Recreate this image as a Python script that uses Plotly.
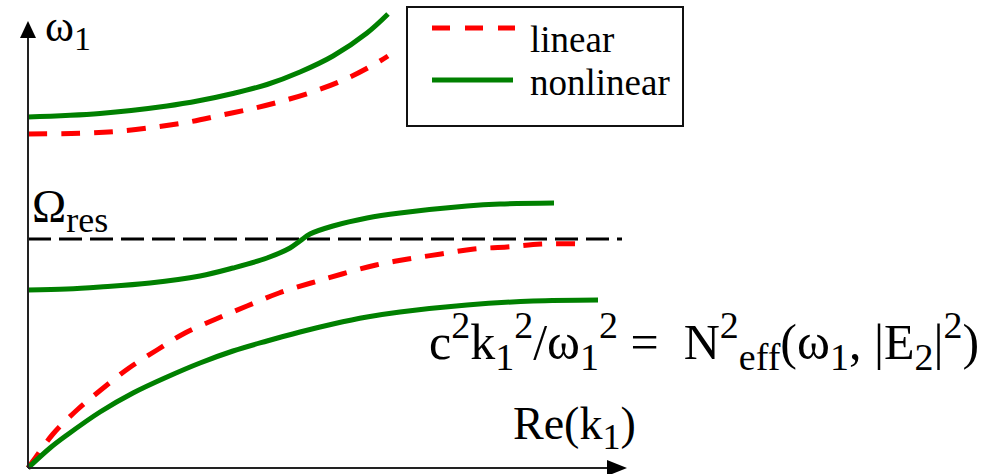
import plotly.graph_objects as go

# ---- data (Re(k1) in arbitrary units, omega1 in arbitrary units) ----
upper_nl_k = [0, 0.72, 1.39, 1.72, 2.05, 2.39, 2.72, 3.05, 3.39, 3.60]
upper_nl_w = [3.51, 3.545, 3.62, 3.675, 3.745, 3.835, 3.96, 4.12, 4.35, 4.54]

upper_lin_k = [0, 0.62, 0.94, 1.28, 1.61, 1.94, 2.27, 2.58, 2.90, 3.22, 3.52, 3.60]
upper_lin_w = [3.34, 3.35, 3.37, 3.41, 3.46, 3.53, 3.60, 3.68, 3.78, 3.91, 4.07, 4.12]

mid_nl_k = [0, 0.39, 0.72, 1.22, 1.72, 2.05, 2.39, 2.62, 2.72, 2.82, 3.05, 3.39, 3.72, 4.39, 4.72, 5.26]
mid_nl_w = [1.78, 1.79, 1.81, 1.85, 1.92, 2.00, 2.10, 2.20, 2.27, 2.34, 2.42, 2.50, 2.55, 2.62, 2.64, 2.65]

low_lin_k = [0, 0.05, 0.25, 0.49, 0.74, 1.01, 1.29, 1.57, 1.88, 2.19, 2.51, 2.83, 3.14, 3.48, 3.80, 4.13, 4.46, 4.79, 5.13, 5.57]
low_lin_w = [0, 0.07, 0.34, 0.58, 0.79, 1.00, 1.18, 1.35, 1.49, 1.62, 1.75, 1.85, 1.94, 2.03, 2.09, 2.14, 2.19, 2.21, 2.24, 2.24]

low_nl_k = [0, 0.22, 0.39, 0.72, 1.05, 1.39, 1.72, 2.05, 2.39, 2.72, 3.05, 3.39, 3.72, 4.39, 5.05, 5.70]
low_nl_w = [0, 0.20, 0.33, 0.56, 0.75, 0.91, 1.05, 1.17, 1.27, 1.36, 1.44, 1.51, 1.56, 1.63, 1.67, 1.68]

omega_res = 2.29
res_k = [0, 5.94]

legend_labels = ["linear", "nonlinear"]

# ---- styles ----
W, H = 994, 474
RED = "#ff0000"
GREEN = "#008000"
FONT = "Liberation Serif"

# pixel -> data helpers for decorations (origin of axes at pixel (28, 468), 100 px per unit)
def X(px):
    return (px - 28) / 100.0

def Y(py):
    return (468 - py) / 100.0

fig = go.Figure()

# resonance line
fig.add_trace(go.Scatter(x=res_k, y=[omega_res, omega_res], mode="lines",
                         line=dict(color="black", width=3, dash="23px,8px")))

red_line = dict(color=RED, width=5, dash="19px,14px")
green_line = dict(color=GREEN, width=5)

fig.add_trace(go.Scatter(x=upper_lin_k, y=upper_lin_w, mode="lines", line=red_line, line_shape="spline"))
fig.add_trace(go.Scatter(x=low_lin_k, y=low_lin_w, mode="lines", line=red_line, line_shape="spline"))
fig.add_trace(go.Scatter(x=upper_nl_k, y=upper_nl_w, mode="lines", line=green_line, line_shape="spline"))
fig.add_trace(go.Scatter(x=mid_nl_k, y=mid_nl_w, mode="lines", line=green_line, line_shape="spline"))
fig.add_trace(go.Scatter(x=low_nl_k, y=low_nl_w, mode="lines", line=green_line, line_shape="spline"))

shapes = []
AX = "#222222"
# axes
shapes.append(dict(type="line", xref="x", yref="y", x0=X(28), y0=Y(468), x1=X(610), y1=Y(468),
                   line=dict(color=AX, width=2)))
shapes.append(dict(type="line", xref="x", yref="y", x0=X(28), y0=Y(468), x1=X(28), y1=Y(36),
                   line=dict(color=AX, width=2)))
# arrow heads
shapes.append(dict(type="path", xref="x", yref="y",
                   path=f"M {X(627)} {Y(468)} L {X(607)} {Y(460)} L {X(607)} {Y(476)} Z",
                   fillcolor="black", line=dict(width=0)))
shapes.append(dict(type="path", xref="x", yref="y",
                   path=f"M {X(28)} {Y(21)} L {X(20)} {Y(38)} L {X(36)} {Y(38)} Z",
                   fillcolor="black", line=dict(width=0)))
# legend box
shapes.append(dict(type="rect", xref="x", yref="y", x0=X(407), y0=Y(126), x1=X(683), y1=Y(7),
                   line=dict(color="#111111", width=2), fillcolor="white"))
shapes.append(dict(type="line", xref="x", yref="y", x0=X(432), y0=Y(28), x1=X(515), y1=Y(28),
                   line=dict(color=RED, width=5, dash="18px,15px")))
shapes.append(dict(type="line", xref="x", yref="y", x0=X(432), y0=Y(80), x1=X(513), y1=Y(80),
                   line=dict(color=GREEN, width=5)))

annotations = []
def txt(text, px, py, size, xanchor="left"):
    annotations.append(dict(text=text, x=X(px), y=Y(py), xref="x", yref="y",
                            xanchor=xanchor, yanchor="middle", showarrow=False,
                            font=dict(family=FONT, size=size, color="black")))

def sub(s, size):
    return f"<sub><span style='font-size:{size}px'>{s}</span></sub>"

def sup(s, size):
    return f"<sup><span style='font-size:{size}px'>{s}</span></sup>"

NB = "\u00a0"
txt(legend_labels[0], 528, 39, 37)
txt(legend_labels[1], 528, 82, 37)
txt("ω" + sub("1", 34), 43, 29, 44)
txt("Ω" + sub("res", 36), 30, 210, 46)
S = 38
eq = ("c" + sup("2", S) + "k" + sub("1", S) + sup("2", S) + "/ω" + sub("1", S) + sup("2", S)
      + " =" + NB + " N" + sup("2", S) + sub("eff", S) + "(ω" + sub("1", S) + ", |E" + sub("2", S) + "|" + sup("2", S) + ")")
txt(eq, 981, 341, 50, xanchor="right")
txt("Re(k" + sub("1", 36) + ")", 511, 427, 46)

fig.update_layout(
    width=W, height=H,
    margin=dict(l=0, r=0, t=0, b=0),
    paper_bgcolor="white", plot_bgcolor="white",
    showlegend=False,
    xaxis=dict(range=[X(0), X(W)], visible=False),
    yaxis=dict(range=[Y(H), Y(0)], visible=False),
    shapes=shapes,
    annotations=annotations,
)

fig.write_html("out.html")
